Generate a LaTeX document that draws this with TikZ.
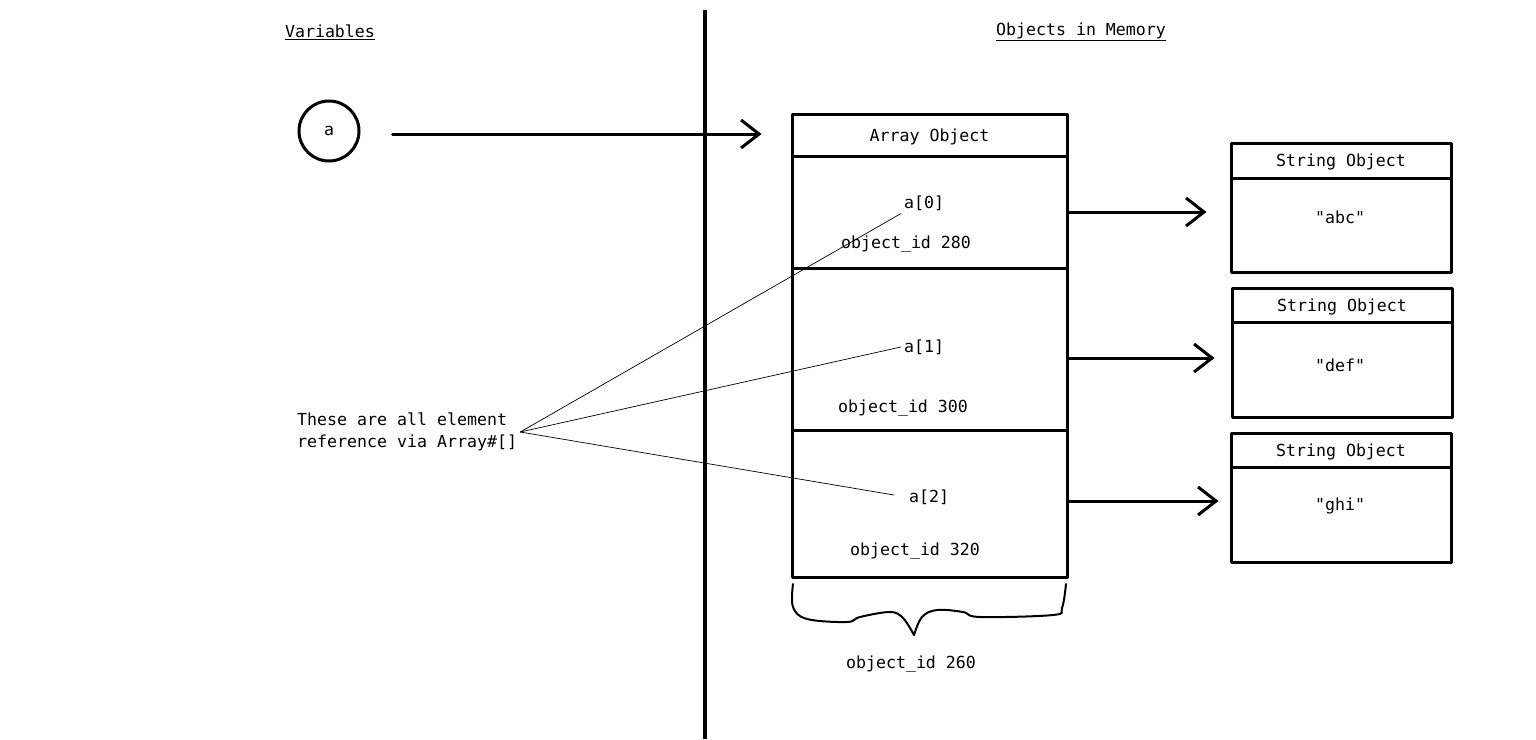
\documentclass[tikz,border=0pt]{standalone}
\usepackage{fontspec}
\setmonofont{DejaVu Sans Mono}
\usetikzlibrary{arrows.meta}
\begin{document}
\begin{tikzpicture}[x=1pt,y=-1pt,line cap=round,line join=round,
  lbl/.style={font=\ttfamily\fontsize{16.6}{22}\selectfont,inner sep=3pt},
  txt/.style={lbl,yshift=-2pt},
  cell/.style={draw,line width=3pt,minimum width=275,inner sep=0pt},
  headcell/.style={cell,lbl,inner sep=0pt,text height=12pt,text depth=0pt},
  strcell/.style={cell,minimum width=220},
  link/.style={line width=3pt,-{Straight Barb[length=18pt,width=28pt]}},
  thin/.style={line width=.7pt}]
\useasboundingbox (0,0) rectangle (1536,739);
\node[txt] (varhd) at (330,30) {\underline{Variables}};
\node[txt] (memhd) at (1081,30) {\underline{Objects in Memory}};
\draw[line width=4pt,line cap=butt] (705,10) -- (705,739);
\node[lbl,circle,draw,line width=3pt,minimum size=60,text height=8pt,text depth=0pt] (avar) at (329,131) {a};
% array object
\node[headcell,minimum height=42] (arrhd) at (929.5,135) {Array Object};
\node[cell,minimum height=112] (cell0) at (929.5,212) {};
\node[cell,minimum height=162] (cell1) at (929.5,349) {};
\node[cell,minimum height=147] (cell2) at (929.5,503.5) {};
\node[txt] (el0) at (924,201) {a[0]};
\node[txt] (id0) at (906,242) {object\_id 280};
\node[txt] (el1) at (924,345) {a[1]};
\node[txt] (id1) at (903,406) {object\_id 300};
\node[txt] (el2) at (929,495) {a[2]};
\node[txt] (id2) at (915,549) {object\_id 320};
% string objects
\node[headcell,strcell,minimum height=35] (str1hd) at (1341,160.5) {String Object};
\node[strcell,minimum height=94] (str1bd) at (1341,225) {};
\node[txt] (str1) at (1340,215) {"abc"};
\node[headcell,strcell,minimum height=34] (str2hd) at (1342,305) {String Object};
\node[strcell,minimum height=95] (str2bd) at (1342,369.5) {};
\node[txt] (str2) at (1340,363) {"def"};
\node[headcell,strcell,minimum height=34] (str3hd) at (1341,450) {String Object};
\node[strcell,minimum height=95] (str3bd) at (1341,514.5) {};
\node[txt] (str3) at (1340,504) {"ghi"};
% references
\draw[link,shorten <=32,shorten >=29] ([yshift=-3pt]avar.east) -- ([yshift=-3pt]avar.east -| arrhd.west);
\draw[link,shorten >=23] (cell0) -- (cell0 -| str1bd.west);
\draw[link,shorten >=16] ([yshift=-9pt]cell1.east) -- ([yshift=-9pt]cell1.east -| str2bd.west);
\draw[link,shorten >=11] ([yshift=2.5pt]cell2.east) -- ([yshift=2.5pt]cell2.east -| str3bd.west);
% note
\node[txt,align=left,anchor=west] (note) at (294,430)
  {These are all element\\reference via Array\#[]};
\draw[thin] (note.east) -- (el0.south west);
\draw[thin] (note.east) -- (el1.west);
\draw[thin,shorten >=12] (note.east) -- (el2.west);
% brace under the array
\draw[line width=2pt] plot[smooth,tension=.6] coordinates
  {(793,584) (793,607) (807,619) (847,622) (860,617) (890,612) (903,618) (914,635)};
\draw[line width=2pt] plot[smooth,tension=.6] coordinates
  {(914,635) (922,617) (937,610) (963,612) (980,617) (1053,615) (1062,608) (1066,584)};
\node[txt] (id3) at (911,662) {object\_id 260};
\end{tikzpicture}
\end{document}
